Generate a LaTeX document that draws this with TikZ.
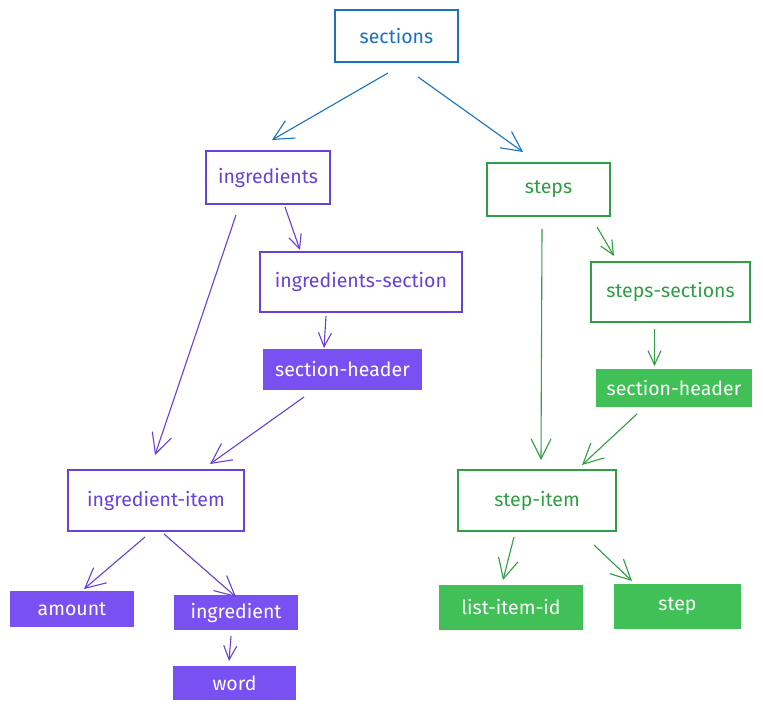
\documentclass[tikz,border=0pt]{standalone}
\usepackage{fontspec}
\setmainfont{Fira Sans}
\usetikzlibrary{arrows.meta,calc}
\definecolor{cblue}{HTML}{1971C2}
\definecolor{cviolet}{HTML}{6741D9}
\definecolor{cvfill}{HTML}{7950F2}
\definecolor{cgreen}{HTML}{2F9E44}
\definecolor{cgfill}{HTML}{40C057}
\tikzset{
  box/.style={draw, line width=1.1pt, inner sep=0pt, font=\fontsize{19.5}{21}\selectfont},
  bbox/.style={box, draw=cblue, text=cblue},
  vbox/.style={box, draw=cviolet, text=cviolet},
  vfill/.style={box, draw=cvfill, fill=cvfill, text=white},
  gbox/.style={box, draw=cgreen, text=cgreen},
  gfill/.style={box, draw=cgfill, fill=cgfill, text=white},
  arr/.style={line width=1.1pt, -{Straight Barb[length=20pt,width=20pt,line width=1.1pt]}},
  sarr/.style={line width=1.1pt, -{Straight Barb[length=14pt,width=13pt,line width=1.1pt]}},
}
\begin{document}
\begin{tikzpicture}[x=1pt,y=-1pt]
\useasboundingbox (0,0) rectangle (763,711);
\fill[white] (0,0) rectangle (763,711);
% nodes
\node[bbox, minimum width=123pt, minimum height=52pt] (S) at (396.5,36) {sections};
\node[vbox, minimum width=124pt, minimum height=53pt] (I) at (268,177.5) {ingredients};
\node[vbox, minimum width=202pt, minimum height=60pt] (IS) at (361,282) {ingredients-section};
\node[vfill, minimum width=157pt, minimum height=39pt] (SHp) at (342.5,369.5) {section-header};
\node[vbox, minimum width=176pt, minimum height=61pt] (II) at (156,500.5) {ingredient-item};
\node[vfill, minimum width=122pt, minimum height=34pt] (A) at (72,609) {amount};
\node[vfill, minimum width=122pt, minimum height=33pt] (G) at (236,612.5) {ingredient};
\node[vfill, minimum width=121pt, minimum height=32pt] (W) at (234.5,683) {word};
\node[gbox, minimum width=123pt, minimum height=53pt] (ST) at (548.5,189.5) {steps};
\node[gbox, minimum width=159pt, minimum height=60pt] (SS) at (670.5,292) {steps-sections};
\node[gfill, minimum width=154pt, minimum height=36pt] (SHg) at (674,388) {section-header};
\node[gbox, minimum width=158pt, minimum height=61pt] (SI) at (537,500.5) {step-item};
\node[gfill, minimum width=142pt, minimum height=43pt] (L) at (511,607.5) {list-item-id};
\node[gfill, minimum width=125pt, minimum height=43pt] (SP) at (677.5,606.5) {step};
% connectors
\draw[arr, cblue] ($(S.center)+(-8.5,37)$) -- ($(I.center)+(4,-37.5)$);
\draw[arr, cblue] ($(S.center)+(21.5,41)$) -- ($(ST.center)+(-25.5,-37.5)$);
\draw[sarr, cviolet] ($(I.center)+(17,29.5)$) -- ($(IS.center)+(-61,-32)$);
\draw[arr, cviolet] ($(I.center)+(-32,37.5)$) -- ($(II.center)+(-1,-45.5)$);
\draw[sarr, cviolet] ($(IS.center)+(-35,34)$) -- ($(SHp.center)+(-18.5,-21.5)$);
\draw[arr, cviolet] ($(SHp.center)+(-38.5,27.5)$) -- ($(II.center)+(54,-36.5)$);
\draw[arr, cviolet] ($(II.center)+(-11,36.5)$) -- ($(A.center)+(12,-20)$);
\draw[arr, cviolet] ($(II.center)+(8,33.5)$) -- ($(G.center)+(0,-15.5)$);
\draw[sarr, cviolet] ($(G.center)+(-5,23.5)$) -- ($(W.center)+(-5.5,-22)$);
\draw[arr, cgreen] ($(ST.center)+(-6.5,39.5)$) -- ($(SI.center)+(4,-40.5)$);
\draw[sarr, cgreen] ($(ST.center)+(48.5,37.5)$) -- ($(SS.center)+(-56.5,-36)$);
\draw[sarr, cgreen] ($(SS.center)+(-16,37)$) -- ($(SHg.center)+(-19.5,-22)$);
\draw[arr, cgreen] ($(SHg.center)+(-37,26)$) -- ($(SI.center)+(45,-35.5)$);
\draw[arr, cgreen] ($(SI.center)+(-23,36.5)$) -- ($(L.center)+(-8,-27.5)$);
\draw[arr, cgreen] ($(SI.center)+(57,44.5)$) -- ($(SP.center)+(-45.5,-25.5)$);
\end{tikzpicture}
\end{document}
